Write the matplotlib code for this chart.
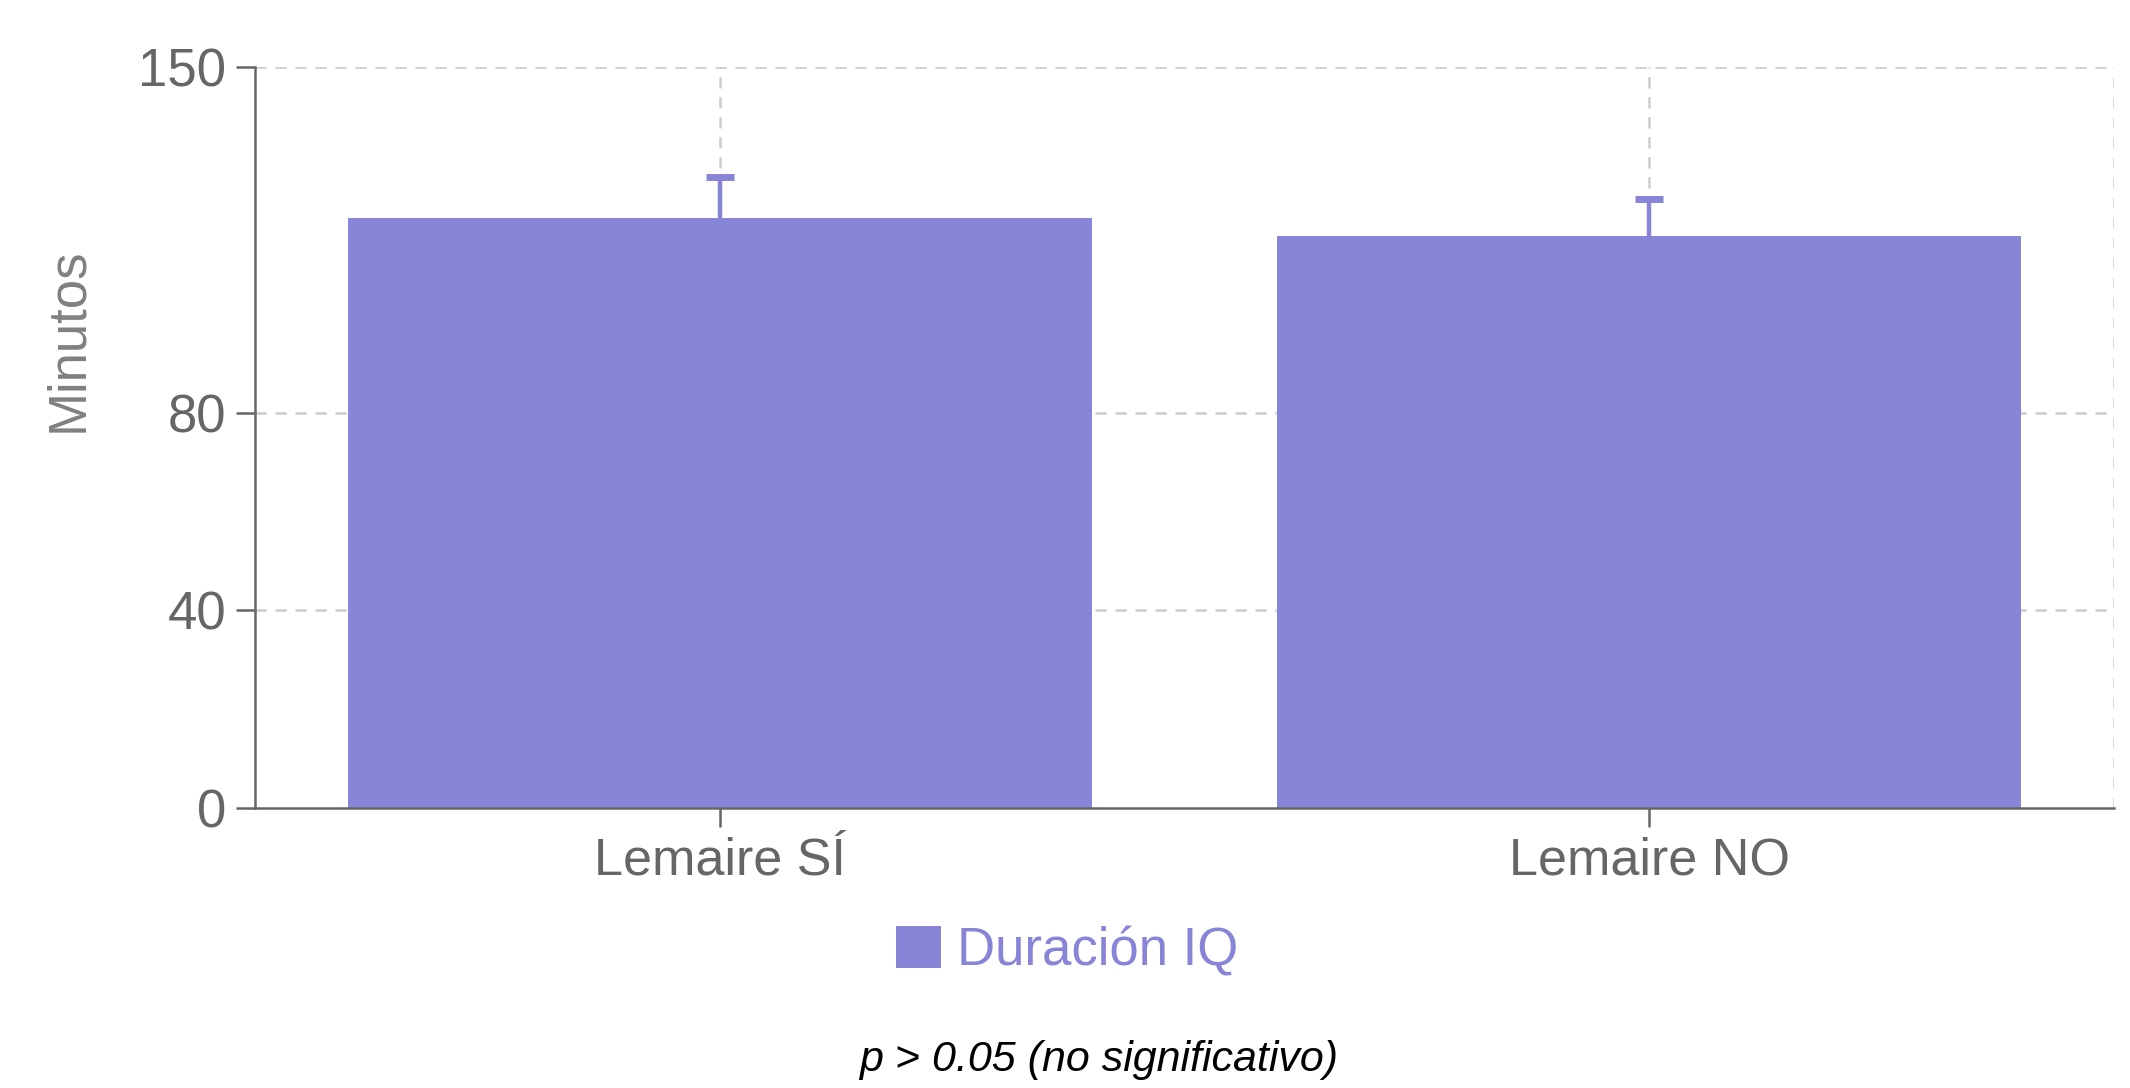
import numpy as np
import matplotlib
matplotlib.use("Agg")
import matplotlib.pyplot as plt

# data
categorias = ["Lemaire SÍ", "Lemaire NO"]
duracion = [119.4, 115.8]
error_sup = [8.3, 7.5]
yticks = [0, 40, 80, 150]

color_barra = "#8884d8"
gris = "#666666"
grid_col = "#cccccc"

plt.rcParams['font.family'] = ['Liberation Sans', 'DejaVu Sans']

fig = plt.figure(figsize=(21.3, 10.88), dpi=100)
ax = fig.add_axes([0.1197, 0.2574, 0.9925 - 0.1197, 0.9384 - 0.2574])

x = np.arange(len(categorias))

# gridlines (dashed, behind bars)
dash = (0, (4.5, 3.5))
for yv in yticks[1:]:
    ax.axhline(yv, color=grid_col, lw=1.8, ls=dash, zorder=0)
for xv in list(x) + [1.5]:
    ax.axvline(xv, color=grid_col, lw=1.8, ls=dash, zorder=0)

# error bars drawn under the bars so only the upper half shows
ax.errorbar(x, duracion, yerr=error_sup, fmt='none', ecolor=color_barra,
            elinewidth=3.2, capsize=10, capthick=5.0, zorder=1)
ax.bar(x, duracion, width=0.8, color=color_barra, zorder=2, label="Duración IQ")

ax.set_xlim(-0.5, 1.5)
ax.set_ylim(0, 150)
ax.set_yticks(yticks)
ax.set_xticks(x)
ax.set_xticklabels(categorias)

for s in ['top', 'right']:
    ax.spines[s].set_visible(False)
for s in ['left', 'bottom']:
    ax.spines[s].set_color(gris)
    ax.spines[s].set_linewidth(1.8)
    ax.spines[s].set_zorder(3)

ax.tick_params(axis='both', colors=gris, labelcolor=gris, length=14, width=1.8, pad=6.5)
ax.tick_params(axis='y', labelsize=38)
ax.tick_params(axis='x', labelsize=37.5)

fig.text(0.032, 1 - 340 / 1088, "Minutos", rotation=90, ha='center', va='center',
         fontsize=38, color="#808080")

leg = fig.legend(loc='center', bbox_to_anchor=(0.501, 1 - 951 / 1088), frameon=False,
                 fontsize=38, handlelength=0.85, handleheight=0.85, handletextpad=0.3,
                 borderpad=0)
for t in leg.get_texts():
    t.set_color(color_barra)

fig.text(1099 / 2130, 1 - 1060 / 1088, "p > 0.05 (no significativo)", ha='center',
         va='center', fontsize=31, style='italic', color='black')

fig.savefig("out.png", dpi=100)
